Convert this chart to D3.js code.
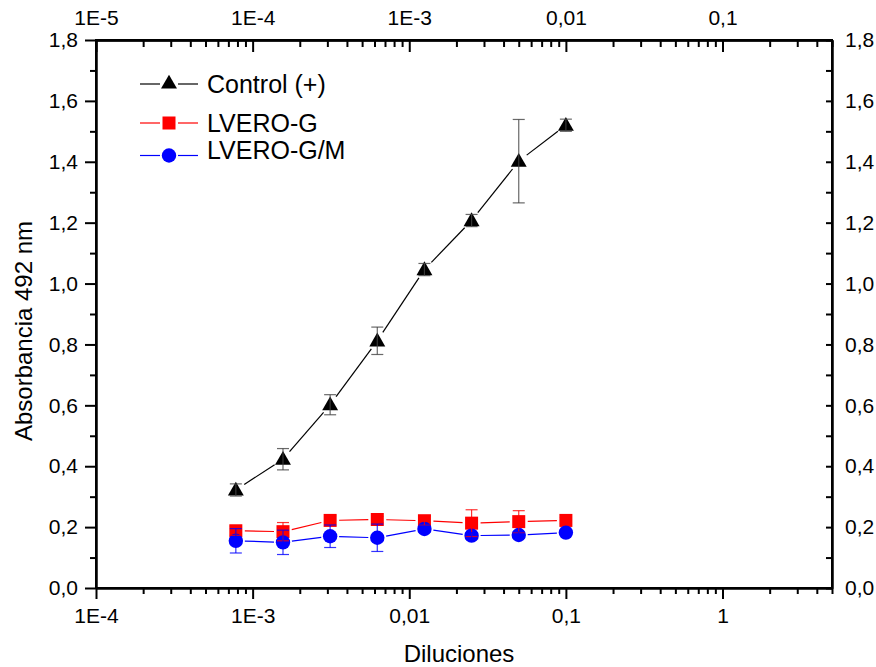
<!DOCTYPE html>
<html><head><meta charset="utf-8">
<script src="https://cdn.jsdelivr.net/npm/d3@7"></script>
<style>body{margin:0;background:#fff}svg{display:block}text{font-family:"Liberation Sans",Arial,sans-serif;fill:#000}</style>
</head><body><svg id="c" width="876" height="667"></svg>
<script>
const dilutions = [1/1280, 1/640, 1/320, 1/160, 1/80, 1/40, 1/20, 1/10];
const controlVals = [0.322, 0.423, 0.602, 0.812, 1.046, 1.207, 1.402, 1.520];
const controlErr  = [0.020, 0.035, 0.033, 0.045, 0.020, 0.020, 0.137, 0.020];
const gVals = [0.188, 0.185, 0.222, 0.225, 0.221, 0.213, 0.218, 0.222];
const gErr  = [0.015, 0.030, 0.015, 0.010, 0.015, 0.044, 0.036, 0.010];
const gmVals = [0.155, 0.150, 0.170, 0.165, 0.194, 0.172, 0.174, 0.182];
const gmErr  = [0.040, 0.040, 0.037, 0.045, 0.010, 0.010, 0.010, 0.010];
const seriesNames = ["Control (+)", "LVERO-G", "LVERO-G/M"];
const bottomTickLabels = ["1E-4","1E-3","0,01","0,1","1"];
const topTickLabels = ["1E-5","1E-4","1E-3","0,01","0,1"];
const yTicks = [0,0.2,0.4,0.6,0.8,1.0,1.2,1.4,1.6,1.8];

const svg = d3.select("#c");
const L=96,R=832,T=40,B=588;
const x = d3.scaleLog().domain([1e-4, 5]).range([L,R]);
const xTop = d3.scaleLog().domain([1e-5, 0.5]).range([L,R]);
const y = d3.scaleLinear().domain([0,1.8]).range([B,T]);

const fmtY = d => d3.format(".1f")(d).replace(".", ",");
const majorB = [1e-4,1e-3,1e-2,1e-1,1];
const majorT = [1e-5,1e-4,1e-3,1e-2,1e-1];
function minors(dom){const out=[];for(let e=-6;e<=1;e++)for(let k=2;k<=9;k++){const v=k*Math.pow(10,e);if(v>dom[0]&&v<dom[1]*1.0001)out.push(v);}return out;}

const g = svg.append("g");
// bottom axis
g.append("g").attr("transform",`translate(0,${B})`)
  .call(d3.axisBottom(x).tickValues(majorB).tickFormat((d,i)=>bottomTickLabels[i]).tickSize(11).tickPadding(9).tickSizeOuter(0));
g.append("g").attr("transform",`translate(0,${B})`).call(d3.axisBottom(x).tickValues(minors(x.domain())).tickFormat("").tickSize(6).tickSizeOuter(0));
// top axis
g.append("g").attr("transform",`translate(0,${T})`)
  .call(d3.axisTop(xTop).tickValues(majorT).tickFormat((d,i)=>topTickLabels[i]).tickSize(0).tickPadding(15).tickSizeOuter(0));
g.append("g").attr("transform",`translate(0,${T})`).call(d3.axisBottom(xTop).tickValues(majorT).tickFormat("").tickSize(12).tickSizeOuter(0));
g.append("g").attr("transform",`translate(0,${T})`).call(d3.axisBottom(xTop).tickValues(minors(xTop.domain())).tickFormat("").tickSize(7).tickSizeOuter(0));
// left axis
g.append("g").attr("transform",`translate(${L},0)`)
  .call(d3.axisLeft(y).tickValues(yTicks).tickFormat(fmtY).tickSize(11).tickPadding(7).tickSizeOuter(0));
g.append("g").attr("transform",`translate(${L},0)`)
  .call(d3.axisLeft(y).tickValues(d3.range(0.1,1.8,0.2)).tickFormat("").tickSize(6).tickSizeOuter(0));
// right axis
g.append("g").attr("transform",`translate(${R},0)`)
  .call(d3.axisRight(y).tickValues(yTicks).tickFormat(fmtY).tickSize(0).tickPadding(13).tickSizeOuter(0));
g.append("g").attr("transform",`translate(${R},0)`)
  .call(d3.axisLeft(y).tickValues(d3.range(0,1.81,0.1)).tickFormat("").tickSize(6).tickSizeOuter(0));

g.selectAll(".domain").attr("stroke","#000").attr("stroke-width",2);
g.selectAll(".tick line").attr("stroke","#000").attr("stroke-width",2);
g.selectAll(".tick text").style("font-size","21px").style("font-family","'Liberation Sans',Arial,sans-serif").attr("fill","#000");

// frame
svg.append("rect").attr("x",L).attr("y",T).attr("width",R-L).attr("height",B-T).attr("fill","none").attr("stroke","#000").attr("stroke-width",2);

// axis titles
svg.append("text").attr("x",459).attr("y",662).attr("text-anchor","middle").style("font-size","24px").text("Diluciones");
svg.append("text").attr("transform",`translate(32,331) rotate(-90)`).attr("text-anchor","middle").style("font-size","24px").text("Absorbancia 492 nm");

const series = [
  {name:seriesNames[0], vals:controlVals, err:controlErr, color:"#000", ecolor:"#444", shape:"tri", gap:10},
  {name:seriesNames[1], vals:gVals, err:gErr, color:"#ff0000", ecolor:"#ff0000", shape:"sq", gap:9},
  {name:seriesNames[2], vals:gmVals, err:gmErr, color:"#0000ff", ecolor:"#0000ff", shape:"circ", gap:9}
];

function drawMarker(sel, shape, cx, cy, color){
  if(shape==="tri") sel.append("path").attr("d",d3.symbol(d3.symbolTriangle,110)()).attr("transform",`translate(${cx},${cy+1})`).attr("fill",color);
  else if(shape==="sq") sel.append("rect").attr("x",cx-6.5).attr("y",cy-6.5).attr("width",13).attr("height",13).attr("fill",color);
  else sel.append("circle").attr("cx",cx).attr("cy",cy).attr("r",7.2).attr("fill",color);
}

const lineG = svg.append("g"), markG = svg.append("g"), errG = svg.append("g");
series.forEach(s=>{
  const pts = dilutions.map((d,i)=>[x(d), y(s.vals[i])]);
  for(let i=0;i<pts.length-1;i++){
    const [x1,y1]=pts[i],[x2,y2]=pts[i+1];
    const len=Math.hypot(x2-x1,y2-y1), ux=(x2-x1)/len, uy=(y2-y1)/len;
    lineG.append("line").attr("x1",x1+ux*s.gap).attr("y1",y1+uy*s.gap).attr("x2",x2-ux*s.gap).attr("y2",y2-uy*s.gap)
      .attr("stroke",s.color).attr("stroke-width",1.2);
  }
  pts.forEach(p=>drawMarker(markG,s.shape,p[0],p[1],s.color));
  dilutions.forEach((d,i)=>{
    const cx=x(d), yt=y(s.vals[i]+s.err[i]), yb=y(s.vals[i]-s.err[i]);
    errG.append("line").attr("x1",cx).attr("x2",cx).attr("y1",yt).attr("y2",yb).attr("stroke",s.ecolor).attr("stroke-width",1.2).attr("opacity",0.8);
    [yt,yb].forEach(yy=>errG.append("line").attr("x1",cx-6).attr("x2",cx+6).attr("y1",yy).attr("y2",yy).attr("stroke",s.ecolor).attr("stroke-width",1.2).attr("opacity",0.8));
  });
});

// legend
const legLineY=[84,123,155.5];
const legTextY=[93,131.5,159];
series.forEach((s,i)=>{
  const lg=svg.append("g");
  lg.append("line").attr("x1",140).attr("x2",160).attr("y1",legLineY[i]).attr("y2",legLineY[i]).attr("stroke",s.color).attr("stroke-width",1.2);
  lg.append("line").attr("x1",178).attr("x2",198).attr("y1",legLineY[i]).attr("y2",legLineY[i]).attr("stroke",s.color).attr("stroke-width",1.2);
  drawMarker(lg,s.shape,169,legLineY[i]-(s.shape==="tri"?1:0),s.color);
  lg.append("text").attr("x",207).attr("y",legTextY[i]).style("font-size","25px").text(s.name);
});
</script></body></html>
